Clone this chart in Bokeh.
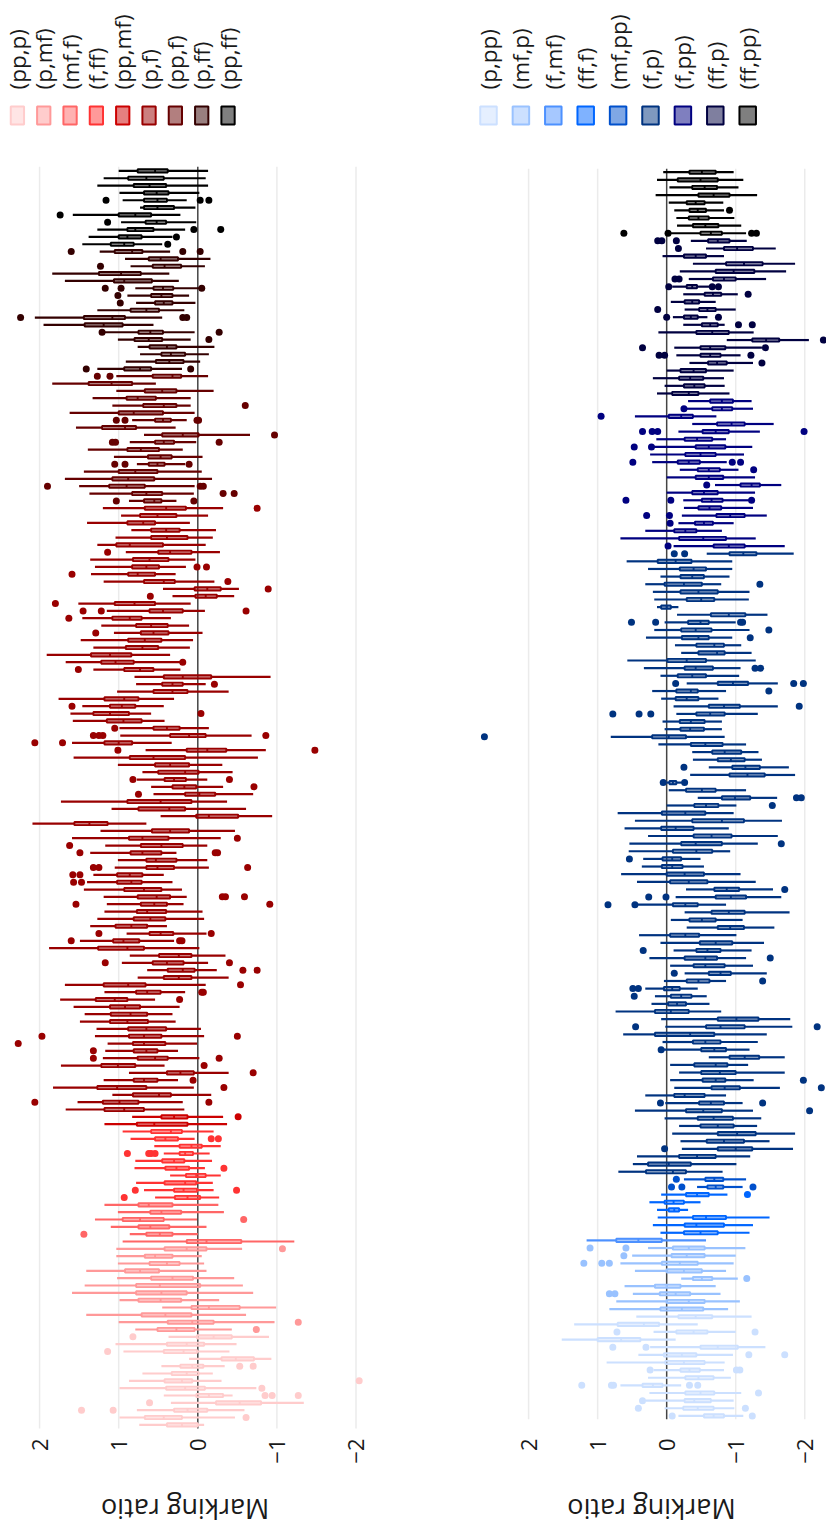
import math
from bokeh.plotting import figure
from bokeh.layouts import row, column
from bokeh.models import Range1d, FixedTicker
from bokeh.core.properties import value
from bokeh.embed import file_html
from bokeh.resources import INLINE

FONT = "Open Sans"
TICKS = [-2, -1, 0, 1, 2]
TICK_TEXT = {-2: "\u22122", -1: "\u22121", 0: "0", 1: "1", 2: "2"}
AXIS_TITLE = "Marking ratio"

# Box statistics per pair group, rows listed from the top of the panel down:
# (upper whisker, q3, median, q1, lower whisker, outliers)
RED_PP_FF = [
    (1.00, 0.76, 0.54, 0.38, -0.13, []),
    (1.19, 0.88, 0.65, 0.43, -0.10, []),
    (1.27, 0.81, 0.61, 0.40, -0.13, []),
    (0.99, 0.68, 0.52, 0.37, -0.02, []),
    (0.95, 0.68, 0.51, 0.39, 0.14, [1.16, -0.03, -0.14]),
    (0.73, 0.68, 0.51, 0.30, 0.03, []),
    (1.58, 1.00, 0.79, 0.59, 0.22, [1.74]),
    (0.97, 0.66, 0.52, 0.40, 0.02, [1.14]),
    (1.27, 0.89, 0.79, 0.56, 0.16, [0.05, -0.29]),
    (1.38, 1.00, 0.89, 0.71, 0.32, [0.27]),
    (1.46, 1.10, 0.93, 0.81, 0.45, [0.38]),
]
RED_P_FF = [
    (1.24, 1.05, 0.83, 0.70, 0.35, [1.60, 0.19, -0.03]),
    (0.92, 0.62, 0.47, 0.25, -0.16, []),
    (0.85, 0.57, 0.42, 0.21, -0.09, [1.23]),
    (1.84, 1.25, 0.97, 0.72, 0.36, []),
    (1.68, 1.06, 0.93, 0.58, 0.24, []),
    (0.79, 0.56, 0.44, 0.31, -0.02, [1.17, 0.97, -0.05]),
    (0.89, 0.59, 0.46, 0.32, 0.11, [1.01]),
    (0.78, 0.54, 0.43, 0.32, 0.03, [0.98]),
    (1.27, 0.85, 0.65, 0.49, 0.17, []),
    (2.06, 1.44, 1.08, 0.92, 0.45, [2.24, 0.19, 0.14]),
    (1.95, 1.43, 1.19, 0.95, 0.56, []),
    (1.19, 0.75, 0.60, 0.44, 0.04, [1.21, -0.27]),
    (1.01, 0.80, 0.62, 0.45, 0.09, [-0.14]),
    (0.76, 0.61, 0.39, 0.27, -0.21, []),
    (0.73, 0.46, 0.34, 0.16, -0.14, []),
    (0.91, 0.53, 0.36, 0.18, -0.03, []),
    (1.27, 0.93, 0.73, 0.59, 0.20, [1.41, 0.09]),
]
RED_PP_F = [
    (1.03, 0.57, 0.32, 0.21, -0.13, [1.27, 1.11]),
    (1.84, 1.38, 1.09, 0.83, 0.53, []),
    (1.03, 0.67, 0.45, 0.27, -0.20, []),
    (1.33, 0.90, 0.76, 0.53, 0.09, []),
    (1.08, 0.69, 0.43, 0.27, 0.09, [-0.60]),
    (1.62, 1.00, 0.81, 0.44, 0.04, []),
    (0.83, 0.54, 0.44, 0.34, 0.14, [1.03, 0.92, 0.01, -0.01]),
    (1.54, 1.21, 0.92, 0.78, 0.28, []),
    (0.68, 0.45, 0.19, -0.01, -0.66, [-0.97]),
    (0.86, 0.54, 0.43, 0.30, 0.02, [1.08, 1.04, -0.27]),
    (1.39, 0.89, 0.72, 0.49, 0.19, []),
    (1.06, 0.63, 0.47, 0.33, -0.06, []),
    (0.77, 0.62, 0.51, 0.42, 0.16, [1.05, 0.92, 0.11]),
    (1.44, 1.00, 0.79, 0.51, -0.05, []),
    (1.68, 1.08, 0.88, 0.55, -0.18, []),
    (1.50, 1.12, 0.90, 0.67, 0.04, [1.90, -0.03, -0.07]),
    (1.37, 0.83, 0.65, 0.45, 0.05, [-0.32, -0.46]),
    (0.87, 0.68, 0.55, 0.46, 0.27, [1.03, 0.05]),
]
RED_P_F = [
    (1.20, 0.67, 0.40, 0.15, -0.32, [-0.75]),
    (0.97, 0.73, 0.51, 0.27, -0.13, []),
    (1.40, 0.89, 0.69, 0.54, 0.10, []),
    (0.84, 0.59, 0.40, 0.23, -0.23, []),
    (1.04, 0.59, 0.39, 0.13, -0.19, []),
    (1.27, 1.03, 0.86, 0.44, -0.10, []),
    (0.91, 0.50, 0.35, 0.08, -0.28, [1.14]),
    (1.36, 0.82, 0.61, 0.37, 0.03, []),
    (1.30, 0.83, 0.65, 0.49, 0.15, [0.01, -0.11]),
    (1.35, 0.88, 0.76, 0.54, 0.28, [1.59]),
    (1.19, 0.68, 0.43, 0.29, -0.21, [-0.38]),
    (0.44, 0.04, -0.12, -0.29, -0.52, [-0.89]),
    (0.32, 0.03, -0.10, -0.24, -0.46, [0.60]),
    (1.51, 1.05, 0.80, 0.54, 0.09, [1.80]),
    (1.15, 0.61, 0.44, 0.19, -0.09, [1.45, 1.22, -0.61]),
    (1.46, 1.08, 0.86, 0.71, 0.34, [1.63]),
    (1.22, 0.78, 0.59, 0.38, 0.11, []),
    (1.06, 0.72, 0.56, 0.37, -0.06, [1.29]),
    (1.48, 0.88, 0.67, 0.46, 0.06, []),
    (1.32, 0.91, 0.70, 0.50, 0.10, []),
    (1.91, 1.35, 1.11, 0.84, 0.35, []),
    (1.67, 1.22, 1.04, 0.81, 0.22, [0.19]),
    (1.32, 0.93, 0.73, 0.56, 0.22, [1.51]),
    (0.80, 0.43, 0.19, -0.17, -0.92, []),
    (0.78, 0.45, 0.32, 0.19, -0.10, [-0.21]),
    (1.02, 0.56, 0.32, 0.13, -0.39, []),
    (1.76, 1.18, 0.93, 0.75, 0.30, []),
    (1.46, 1.11, 0.96, 0.79, 0.43, [1.59]),
    (1.61, 1.32, 1.11, 0.87, 0.59, [-0.04]),
    (1.58, 1.15, 0.94, 0.71, 0.42, []),
    (0.99, 0.56, 0.39, 0.23, -0.14, [1.05]),
    (0.98, 0.35, 0.11, -0.10, -0.68, [1.32, 1.25, 1.20, -0.86]),
    (1.59, 1.18, 1.00, 0.83, 0.33, [2.06, 1.71]),
    (0.66, 0.14, -0.12, -0.36, -0.86, [1.01, -1.48]),
    (1.57, 0.86, 0.56, 0.16, -0.76, []),
    (1.01, 0.54, 0.35, 0.11, -0.31, []),
    (0.70, 0.50, 0.16, -0.01, -0.44, []),
    (0.77, 0.42, 0.30, 0.15, -0.12, [0.82, -0.40]),
    (0.59, 0.32, 0.17, 0.02, -0.32, [-0.71]),
    (0.56, 0.16, -0.02, -0.22, -0.70, [0.75]),
    (1.73, 0.89, 0.47, 0.08, -0.37, []),
    (1.09, 0.75, 0.36, 0.16, -0.61, []),
    (0.47, 0.02, -0.14, -0.51, -0.94, []),
    (2.09, 1.56, 1.37, 1.14, 0.65, []),
    (1.23, 0.58, 0.35, 0.11, -0.47, []),
    (1.59, 0.87, 0.70, 0.37, -0.29, [-0.50]),
    (1.17, 0.72, 0.46, 0.19, -0.12, [1.62]),
    (1.36, 0.85, 0.70, 0.46, 0.27, [1.49, -0.22, -0.25]),
    (1.01, 0.65, 0.53, 0.27, -0.12, []),
    (1.05, 0.65, 0.51, 0.30, -0.14, [1.32, 1.25, -0.63]),
    (1.32, 1.02, 0.86, 0.70, 0.43, [1.58, 1.49]),
    (1.40, 1.02, 0.84, 0.71, 0.32, [1.57, 1.47]),
    (1.44, 0.93, 0.68, 0.46, 0.20, []),
    (1.19, 0.76, 0.52, 0.35, 0.14, [-0.31, -0.35, -0.59]),
    (1.15, 0.72, 0.55, 0.39, 0.18, [1.54, -0.91]),
    (1.18, 0.77, 0.64, 0.40, -0.06, []),
    (1.27, 0.81, 0.60, 0.41, -0.08, []),
    (1.36, 1.04, 0.84, 0.64, 0.39, []),
    (0.90, 0.61, 0.47, 0.31, -0.11, [1.25, -0.17]),
    (1.49, 1.07, 0.94, 0.74, 0.30, [1.60, 0.23, 0.20]),
    (1.88, 1.26, 0.89, 0.68, -0.02, []),
    (0.86, 0.49, 0.24, 0.08, -0.35, []),
    (0.96, 0.57, 0.39, 0.18, -0.13, [1.17, -0.40]),
    (0.64, 0.38, 0.19, 0.04, -0.24, [-0.57, -0.75]),
    (0.76, 0.43, 0.24, 0.08, -0.39, []),
    (1.68, 1.19, 0.88, 0.66, -0.10, [-0.54]),
    (1.18, 0.78, 0.64, 0.47, 0.16, [-0.05, -0.07]),
    (1.74, 1.29, 1.05, 0.89, 0.54, [0.23]),
    (1.57, 1.11, 0.92, 0.73, 0.23, []),
    (1.43, 1.10, 0.85, 0.64, 0.32, []),
    (1.49, 1.11, 0.89, 0.63, 0.28, []),
    (1.28, 0.88, 0.65, 0.40, -0.04, []),
    (1.30, 0.87, 0.68, 0.46, -0.08, [1.97, -0.50]),
    (1.14, 0.82, 0.68, 0.41, 0.01, [2.27]),
    (1.17, 0.81, 0.65, 0.51, 0.25, [1.32]),
    (1.20, 0.76, 0.54, 0.38, -0.02, [1.32, -0.27]),
    (1.73, 1.22, 1.01, 0.79, 0.42, [-0.08]),
    (0.87, 0.39, 0.22, 0.05, -0.39, [-0.70]),
    (1.19, 0.81, 0.68, 0.51, 0.25, [0.06]),
    (1.83, 1.27, 1.02, 0.65, 0.05, [-0.33]),
    (1.08, 0.82, 0.49, 0.34, -0.17, []),
    (1.52, 1.20, 0.99, 0.75, 0.19, [2.06, -0.14]),
    (1.67, 1.18, 0.93, 0.68, 0.17, []),
]
RED_PP_MF = [
    (0.83, 0.46, 0.30, 0.13, -0.32, [-0.51]),
    (1.18, 0.77, 0.55, 0.13, -0.37, []),
]
RED_F_FF = [
    (0.95, 0.59, 0.34, 0.20, -0.20, []),
    (0.85, 0.54, 0.41, 0.25, 0.04, [-0.17, -0.26]),
    (0.55, 0.23, 0.08, -0.05, -0.29, []),
    (0.43, 0.23, 0.16, 0.06, -0.15, [0.89, 0.62, 0.59, 0.54]),
    (0.79, 0.45, 0.30, 0.17, -0.18, []),
    (0.80, 0.41, 0.27, 0.11, -0.09, [-0.33]),
    (0.35, 0.15, 0.02, -0.10, -0.29, []),
    (0.78, 0.42, 0.16, 0.02, -0.19, []),
    (0.68, 0.30, 0.18, 0.01, -0.20, [0.79, -0.49]),
    (0.54, 0.29, 0.13, -0.03, -0.27, [0.93]),
]
RED_MF_F = [
    (1.18, 0.75, 0.62, 0.32, -0.26, []),
    (1.01, 0.60, 0.46, 0.21, -0.33, []),
    (1.30, 0.95, 0.73, 0.43, 0.01, [-0.58]),
    (1.10, 0.75, 0.60, 0.36, -0.11, []),
    (0.86, 0.65, 0.48, 0.32, 0.00, [1.44]),
    (0.95, 0.14, -0.11, -0.55, -1.22, []),
]
RED_P_MF = [
    (1.03, 0.42, 0.14, -0.11, -0.56, [-1.07]),
    (1.03, 0.67, 0.54, 0.32, -0.05, []),
    (1.01, 0.61, 0.39, 0.23, -0.08, []),
    (1.41, 0.92, 0.73, 0.49, -0.11, []),
    (1.02, 0.59, 0.32, 0.06, -0.46, []),
    (1.43, 0.78, 0.48, -0.03, -0.57, []),
    (1.59, 0.78, 0.46, 0.14, -0.70, []),
    (0.99, 0.75, 0.47, 0.21, -0.27, []),
    (0.45, 0.08, -0.14, -0.53, -0.99, []),
    (1.41, 0.71, 0.41, 0.08, -0.61, []),
    (1.00, 0.38, 0.07, -0.20, -0.97, [-1.27]),
    (0.79, 0.51, 0.27, 0.04, -0.43, [-0.74]),
]
RED_PP_P = [
    (0.37, 0.01, -0.20, -0.43, -0.90, [0.82]),
    (1.04, 0.39, 0.14, -0.08, -0.49, []),
    (0.94, 0.43, 0.18, 0.01, -0.40, [1.14]),
    (0.11, -0.30, -0.48, -0.71, -0.93, []),
    (0.46, 0.22, 0.07, -0.07, -0.34, [-0.53, -0.70]),
    (0.70, 0.33, 0.14, -0.01, -0.19, []),
    (0.87, 0.42, 0.20, 0.07, -0.30, [-2.04]),
    (0.99, 0.40, 0.16, -0.09, -0.74, [-0.81]),
    (0.43, 0.02, -0.14, -0.32, -0.44, [-0.85, -0.94, -1.27]),
    (0.34, -0.23, -0.53, -0.80, -1.34, [0.61]),
    (0.77, 0.30, 0.13, -0.12, -0.59, [1.47, 1.07]),
    (0.99, 0.67, 0.43, 0.20, -0.47, [-0.61]),
    (0.74, 0.39, 0.20, 0.00, -0.08, []),
]

BLUE_FF_PP = [
    (0.05, -0.33, -0.51, -0.71, -0.97, []),
    (0.14, -0.16, -0.49, -0.74, -1.11, []),
    (-0.04, -0.37, -0.55, -0.73, -1.04, []),
    (0.16, -0.46, -0.68, -0.91, -1.31, []),
    (-0.03, -0.29, -0.42, -0.55, -0.82, []),
    (-0.11, -0.33, -0.45, -0.57, -0.83, [-0.91]),
    (-0.14, -0.32, -0.46, -0.61, -0.98, []),
    (-0.15, -0.38, -0.56, -0.75, -1.08, []),
    (-0.05, -0.49, -0.64, -0.80, -1.15, [0.62, -0.02, -1.23, -1.30]),
]
BLUE_FF_P = [
    (-0.35, -0.60, -0.74, -0.91, -1.16, [0.13, 0.07, -0.14]),
    (-0.57, -0.83, -1.02, -1.25, -1.58, [-0.17]),
    (0.06, -0.25, -0.42, -0.57, -0.83, []),
    (-0.38, -0.86, -1.12, -1.39, -1.86, []),
    (-0.19, -0.71, -0.97, -1.27, -1.73, []),
    (-0.32, -0.67, -0.83, -1.00, -1.44, [-0.12, -0.18]),
    (-0.08, -0.29, -0.37, -0.44, -0.63, [-0.03, -0.66, -0.75]),
    (-0.24, -0.55, -0.67, -0.79, -1.03, [-1.18]),
    (-0.06, -0.26, -0.37, -0.47, -0.71, []),
    (-0.26, -0.47, -0.59, -0.71, -1.00, [0.13]),
    (-0.09, -0.25, -0.35, -0.45, -0.59, [0.00, -0.75]),
    (-0.24, -0.51, -0.63, -0.74, -0.84, [-1.04, -1.24]),
    (0.12, -0.43, -0.66, -0.90, -1.26, []),
    (-0.87, -1.24, -1.44, -1.63, -2.06, [-2.27]),
    (-0.11, -0.49, -0.63, -0.85, -1.38, [0.35, -1.43]),
    (-0.14, -0.49, -0.63, -0.78, -1.07, [0.11, 0.03, -1.22]),
    (-0.33, -0.60, -0.73, -0.87, -1.25, [-1.38]),
    (0.00, -0.20, -0.39, -0.57, -0.97, []),
    (0.20, -0.18, -0.34, -0.53, -0.83, []),
    (0.03, -0.25, -0.40, -0.55, -0.84, []),
    (0.14, -0.08, -0.32, -0.46, -0.91, []),
]
BLUE_F_PP = [
    (-0.31, -0.63, -0.80, -0.96, -1.23, []),
    (-0.29, -0.66, -0.80, -0.95, -1.25, [-0.25]),
    (0.46, -0.03, -0.21, -0.38, -0.72, [0.95]),
    (-0.37, -0.73, -0.94, -1.13, -1.55, []),
    (-0.17, -0.52, -0.71, -0.90, -1.35, [0.35, 0.21, 0.13, -1.99]),
    (0.15, -0.26, -0.44, -0.66, -0.86, []),
    (0.19, -0.42, -0.61, -0.85, -1.24, [0.47, 0.22]),
    (0.24, -0.27, -0.49, -0.71, -1.12, []),
    (0.21, -0.16, -0.32, -0.48, -0.87, [0.49, -0.95, -1.07]),
    (-0.19, -0.45, -0.61, -0.77, -1.04, [-1.26]),
    (0.00, -0.42, -0.61, -0.82, -1.28, []),
    (-0.70, -1.07, -1.23, -1.35, -1.66, [-0.58]),
    (0.00, -0.37, -0.54, -0.74, -1.28, []),
    (-0.24, -0.51, -0.65, -0.81, -1.19, [0.59, -0.06, -1.23]),
    (-0.25, -0.46, -0.62, -0.79, -1.25, []),
    (-0.22, -0.72, -0.92, -1.13, -1.45, [0.29, -0.04]),
    (-0.17, -0.41, -0.54, -0.67, -0.97, [-0.05]),
    (0.31, -0.11, -0.27, -0.43, -0.80, []),
    (0.67, -0.18, -0.53, -0.86, -1.29, []),
    (-0.10, -0.68, -0.90, -1.13, -1.71, [-0.02]),
]
BLUE_F_P = [
    (-0.58, -0.91, -1.11, -1.30, -1.84, [-0.11, -0.26]),
    (0.58, 0.13, -0.13, -0.36, -0.95, []),
    (0.27, -0.19, -0.39, -0.57, -0.95, []),
    (0.09, -0.20, -0.37, -0.54, -0.91, []),
    (0.31, 0.03, -0.25, -0.51, -0.79, [-1.35]),
    (0.20, -0.20, -0.46, -0.74, -1.20, []),
    (0.18, -0.29, -0.50, -0.69, -1.19, []),
    (0.14, 0.08, 0.00, -0.06, -0.17, []),
    (-0.15, -0.64, -0.90, -1.14, -1.46, []),
    (0.03, -0.31, -0.49, -0.61, -1.00, [0.51, 0.16, -1.07, -1.10]),
    (0.18, -0.21, -0.42, -0.65, -1.20, [-1.48]),
    (0.30, -0.22, -0.46, -0.61, -0.95, [-1.21]),
    (-0.12, -0.43, -0.69, -0.83, -1.08, []),
    (-0.21, -0.46, -0.73, -0.84, -1.23, []),
    (0.57, -0.01, -0.29, -0.57, -1.29, []),
    (0.33, -0.26, -0.42, -0.67, -1.07, [-1.28, -1.36]),
    (0.09, -0.16, -0.37, -0.57, -1.05, []),
    (-0.29, -0.74, -0.96, -1.18, -1.61, [-0.13, -1.84, -1.98]),
    (0.21, -0.14, -0.35, -0.45, -0.86, [-1.48]),
    (0.08, -0.13, -0.29, -0.46, -0.75, []),
    (-0.10, -0.61, -0.83, -1.06, -1.61, [-1.92]),
    (-0.14, -0.43, -0.63, -0.84, -1.32, [0.78, 0.40, 0.23]),
    (0.06, -0.19, -0.35, -0.55, -0.80, []),
    (0.03, -0.20, -0.34, -0.54, -0.80, []),
    (0.81, 0.21, -0.03, -0.28, -0.84, [2.64]),
    (0.12, -0.35, -0.56, -0.81, -1.15, []),
    (-0.37, -0.66, -0.84, -1.08, -1.33, []),
    (-0.38, -0.74, -0.93, -1.13, -1.38, []),
    (-0.61, -0.95, -1.14, -1.35, -1.77, [-0.25]),
    (-0.34, -0.91, -1.17, -1.42, -1.86, []),
    (0.00, -0.04, -0.09, -0.14, -0.22, [0.05, -0.26]),
    (-0.03, -0.28, -0.51, -0.71, -1.15, []),
    (-0.45, -0.80, -0.99, -1.21, -1.60, [-1.88, -1.95]),
    (0.00, -0.40, -0.57, -0.75, -1.01, [-1.53]),
    (0.71, 0.07, -0.27, -0.56, -0.97, []),
    (0.46, -0.37, -0.80, -1.12, -1.67, []),
    (0.61, 0.08, -0.13, -0.39, -0.90, []),
    (0.27, -0.39, -0.65, -0.94, -1.61, []),
    (0.54, -0.21, -0.42, -0.80, -1.32, [-1.66]),
    (0.55, -0.09, -0.43, -0.66, -0.92, []),
    (0.34, 0.06, -0.08, -0.21, -0.49, [0.54]),
    (0.36, 0.07, -0.08, -0.23, -0.54, []),
    (0.66, 0.00, -0.26, -0.54, -1.07, []),
    (0.43, -0.05, -0.32, -0.59, -1.29, []),
    (-0.28, -0.69, -0.87, -1.05, -1.54, [-1.71]),
    (-0.13, -0.71, -0.93, -1.15, -1.66, [0.26, 0.01]),
    (0.43, -0.09, -0.27, -0.45, -0.86, [0.85, 0.46]),
    (-0.26, -0.65, -0.90, -1.13, -1.78, []),
    (-0.06, -0.33, -0.51, -0.71, -1.10, []),
    (-0.29, -0.74, -0.92, -1.12, -1.56, []),
    (0.40, -0.05, -0.27, -0.47, -1.01, []),
    (0.09, -0.48, -0.71, -0.95, -1.41, []),
    (-0.10, -0.43, -0.59, -0.78, -1.23, [0.34]),
    (0.25, -0.26, -0.56, -0.73, -1.15, [-1.50]),
    (-0.05, -0.39, -0.56, -0.84, -1.25, []),
    (-0.26, -0.61, -0.78, -0.93, -1.45, [-0.11]),
    (0.04, -0.29, -0.46, -0.62, -0.86, [-1.39]),
    (0.31, 0.04, -0.08, -0.19, -0.45, [0.49, 0.41]),
    (0.17, -0.06, -0.21, -0.36, -0.58, [0.47]),
    (0.22, -0.02, -0.15, -0.28, -0.62, []),
    (0.74, 0.17, -0.06, -0.32, -0.79, []),
    (0.08, -0.74, -1.01, -1.33, -1.79, []),
    (0.02, -0.57, -0.78, -1.13, -1.82, [0.45, -2.18]),
    (0.63, 0.17, -0.34, -0.69, -1.45, []),
    (0.06, -0.38, -0.56, -0.78, -1.32, []),
    (0.04, -0.50, -0.69, -0.86, -1.20, [0.08]),
    (-0.61, -0.91, -1.13, -1.34, -1.71, []),
    (-0.05, -0.40, -0.71, -0.88, -1.18, []),
    (-0.18, -0.50, -0.77, -1.00, -1.71, []),
    (-0.05, -0.52, -0.71, -0.85, -1.26, [-1.98]),
    (-0.11, -0.65, -0.84, -1.06, -1.64, [-2.24]),
    (0.31, -0.11, -0.26, -0.55, -0.86, []),
    (0.02, -0.47, -0.64, -0.83, -1.10, [0.09, -1.39]),
    (0.46, -0.28, -0.53, -0.80, -1.25, [-2.07]),
    (0.03, -0.45, -0.68, -0.96, -1.37, []),
    (-0.18, -0.49, -0.74, -0.97, -1.31, []),
    (-0.08, -0.74, -1.02, -1.29, -1.86, []),
    (-0.20, -0.58, -0.83, -1.12, -1.49, []),
    (-0.22, -0.74, -1.00, -1.24, -1.83, [0.03]),
    (0.43, -0.18, -0.44, -0.71, -1.21, []),
    (0.49, 0.27, -0.03, -0.35, -1.01, []),
    (0.70, 0.30, -0.09, -0.28, -0.81, []),
]
BLUE_MF_PP = [
    (-0.25, -0.56, -0.69, -0.82, -1.15, [-0.14]),
    (-0.44, -0.59, -0.71, -0.82, -1.10, [-0.07, -0.22, -1.25]),
]
BLUE_FF_F = [
    (0.08, -0.28, -0.44, -0.61, -0.88, [-1.17]),
    (0.25, 0.03, -0.10, -0.25, -0.49, []),
    (0.14, -0.03, -0.11, -0.18, -0.31, []),
    (0.13, -0.38, -0.57, -0.86, -1.49, []),
    (0.20, -0.26, -0.43, -0.83, -1.25, []),
    (0.09, -0.25, -0.49, -0.74, -1.20, []),
]
BLUE_F_MF = [
    (1.16, 0.73, 0.41, 0.07, -0.57, []),
]
BLUE_MF_P = [
    (0.27, -0.09, -0.32, -0.55, -1.14, [1.11, 0.59]),
    (0.50, -0.07, -0.29, -0.55, -1.00, [0.62]),
    (0.67, 0.07, -0.19, -0.45, -0.97, [1.20, 0.94, 0.83]),
    (0.46, 0.00, -0.25, -0.51, -0.86, []),
    (-0.21, -0.38, -0.51, -0.66, -1.03, [-1.16]),
    (0.61, 0.17, 0.00, -0.20, -0.71, []),
    (0.49, 0.10, -0.13, -0.34, -0.78, [0.83, 0.75]),
    (0.73, 0.00, -0.32, -0.55, -1.06, []),
    (0.83, 0.09, -0.22, -0.53, -0.89, []),
]
BLUE_P_PP = [
    (0.44, -0.17, -0.42, -0.66, -1.23, []),
    (1.34, 0.71, 0.33, 0.11, -0.45, []),
    (0.19, -0.14, -0.39, -0.59, -1.00, [0.72, -1.28]),
    (1.52, 1.00, 0.66, 0.38, -0.13, []),
    (0.24, -0.49, -0.74, -1.03, -1.43, [0.78, 0.30]),
    (0.41, 0.04, -0.22, -0.43, -0.96, [-1.19, -1.71]),
    (0.87, 0.02, -0.25, -0.55, -0.84, []),
    (0.19, -0.20, -0.33, -0.48, -0.83, [0.24, -1.01, -1.06]),
    (0.27, -0.27, -0.46, -0.68, -0.93, []),
    (0.67, 0.35, 0.20, 0.06, -0.21, [1.23, 0.80, 0.77, -0.33, -0.45]),
    (0.25, -0.27, -0.49, -0.69, -1.08, [-1.33]),
    (0.30, -0.26, -0.40, -0.64, -0.97, [0.35]),
    (0.03, -0.24, -0.45, -0.68, -0.98, [0.41, -1.14]),
    (-0.17, -0.54, -0.68, -0.83, -1.11, [-0.08, -1.24]),
]

# groups from the top of each panel down: (legend name, colour, rows)
RED_GROUPS = [
    ("(pp,ff)", "#000000", RED_PP_FF),
    ("(p,ff)", "#330000", RED_P_FF),
    ("(pp,f)", "#660000", RED_PP_F),
    ("(p,f)", "#990000", RED_P_F),
    ("(pp,mf)", "#cc0000", RED_PP_MF),
    ("(f,ff)", "#ff3333", RED_F_FF),
    ("(mf,f)", "#ff6666", RED_MF_F),
    ("(p,mf)", "#ff9999", RED_P_MF),
    ("(pp,p)", "#ffcccc", RED_PP_P),
]
BLUE_GROUPS = [
    ("(ff,pp)", "#000000", BLUE_FF_PP),
    ("(ff,p)", "#000040", BLUE_FF_P),
    ("(f,pp)", "#000080", BLUE_F_PP),
    ("(f,p)", "#003380", BLUE_F_P),
    ("(mf,pp)", "#0050cc", BLUE_MF_PP),
    ("(ff,f)", "#0066ff", BLUE_FF_F),
    ("(f,mf)", "#4d91ff", BLUE_F_MF),
    ("(mf,p)", "#99c2ff", BLUE_MF_P),
    ("(p,pp)", "#cce0ff", BLUE_P_PP),
]

PAGE_H = 1528
LEGEND_H = 140
FRAME_BOTTOM = 1428      # page y where the plotting area ends
TICK_BAND = 42           # room under the plotting area for tick labels
TITLE_H = PAGE_H - FRAME_BOTTOM - TICK_BAND
TITLE_Y = 1509           # page y of the axis title centre


def bare(fig):
    fig.outline_line_color = None
    fig.grid.visible = False
    fig.background_fill_color = "white"
    return fig


def make_panel(groups, width, frame_w, x_span, top_row, pitch, grid_pad, legend_step, title_x):
    # ---- legend strip with vertical labels ----
    leg = bare(figure(width=width, height=LEGEND_H, x_range=Range1d(0, width),
                      y_range=Range1d(0, LEGEND_H), output_backend="svg",
                      toolbar_location=None, x_axis_location=None, y_axis_location=None,
                      min_border=0))
    items = list(reversed(groups))
    lx = [21 + i * legend_step for i in range(len(items))]
    lcol = [c for _, c, _ in items]
    leg.rect(x=lx, y=[LEGEND_H - 115] * len(items), width=16.5, height=18,
             fill_color=lcol, fill_alpha=0.5, line_color=lcol, line_width=2)
    leg.text(x=lx, y=[LEGEND_H - 89] * len(items), text=[n for n, _, _ in items],
             angle=math.pi / 2, text_align="left", text_baseline="middle",
             text_font=value(FONT), text_font_size="22.5px", text_color="#1a1a1a")

    # ---- box plot panel ----
    k_top = (LEGEND_H - top_row) / pitch
    k_bot = (FRAME_BOTTOM - top_row) / pitch
    p = bare(figure(width=width, height=FRAME_BOTTOM + TICK_BAND - LEGEND_H,
                    x_range=Range1d(*x_span), y_range=Range1d(k_bot, k_top),
                    output_backend="svg", toolbar_location=None, y_axis_location=None,
                    min_border_left=0, min_border_right=width - frame_w,
                    min_border_top=0, min_border_bottom=TICK_BAND))

    n_rows = sum(len(g[2]) for g in groups)
    g0, g1 = -grid_pad, n_rows - 1 + grid_pad
    side = [t for t in TICKS if t != 0]
    p.segment(x0=side, x1=side, y0=[g0] * len(side), y1=[g1] * len(side),
              line_color="#ebebeb", line_width=1.5)
    p.segment(x0=[0], x1=[0], y0=[g0], y1=[g1], line_color="#444444", line_width=1.5)

    box_h = 3.2 / pitch
    k = 0
    placed = []
    for name, col, rows in groups:
        ks = list(range(k, k + len(rows)))
        placed.append((col, rows, ks))
        k += len(rows)

    for col, rows, ks in reversed(placed):
        hi = [r[0] for r in rows]
        q3 = [r[1] for r in rows]
        md = [r[2] for r in rows]
        q1 = [r[3] for r in rows]
        lo = [r[4] for r in rows]
        p.segment(x0=hi, x1=q3, y0=ks, y1=ks, line_color=col, line_width=2.2)
        p.segment(x0=q1, x1=lo, y0=ks, y1=ks, line_color=col, line_width=2.2)
        p.hbar(y=ks, left=q1, right=q3, height=box_h, fill_color=col, fill_alpha=0.5,
               line_color=col, line_width=1.9)
        p.segment(x0=md, x1=md, y0=[y - box_h / 2 for y in ks],
                  y1=[y + box_h / 2 for y in ks], line_color=col, line_width=1.9)
        ox, oy = [], []
        for r, y in zip(rows, ks):
            for v in r[5]:
                ox.append(v)
                oy.append(y)
        if ox:
            p.scatter(x=ox, y=oy, size=7, fill_color=col, line_color=None)

    ax = p.xaxis[0]
    ax.ticker = FixedTicker(ticks=TICKS)
    ax.major_label_overrides = TICK_TEXT
    ax.major_label_orientation = math.pi / 2
    ax.axis_line_color = None
    ax.major_tick_line_color = None
    ax.minor_tick_line_color = None
    ax.major_label_standoff = 4
    ax.major_label_text_font = FONT
    ax.major_label_text_font_size = "22px"
    ax.major_label_text_color = "#1a1a1a"

    # ---- axis title strip (text turned upside down) ----
    t = bare(figure(width=width, height=TITLE_H, x_range=Range1d(*x_span),
                    y_range=Range1d(0, TITLE_H), output_backend="svg",
                    toolbar_location=None, x_axis_location=None, y_axis_location=None,
                    min_border_left=0, min_border_right=width - frame_w,
                    min_border_top=0, min_border_bottom=0))
    t.text(x=[title_x], y=[PAGE_H - TITLE_Y], text=[AXIS_TITLE], angle=math.pi,
           text_align="center", text_baseline="middle", text_font=value(FONT),
           text_font_size="27px", text_color="#1a1a1a")
    return column(leg, p, t)


red_panel = make_panel(RED_GROUPS, width=467, frame_w=376, x_span=(2.494, -2.259),
                       top_row=170.4, pitch=7.333, grid_pad=0.55, legend_step=32.7,
                       title_x=0.16)
blue_panel = make_panel(BLUE_GROUPS, width=359, frame_w=359, x_span=(2.885, -2.315),
                        top_row=171.7, pitch=7.63, grid_pad=0.45, legend_step=32.4,
                        title_x=0.22)

layout = row(red_panel, blue_panel)
open("out.html", "w").write(file_html(layout, INLINE))
